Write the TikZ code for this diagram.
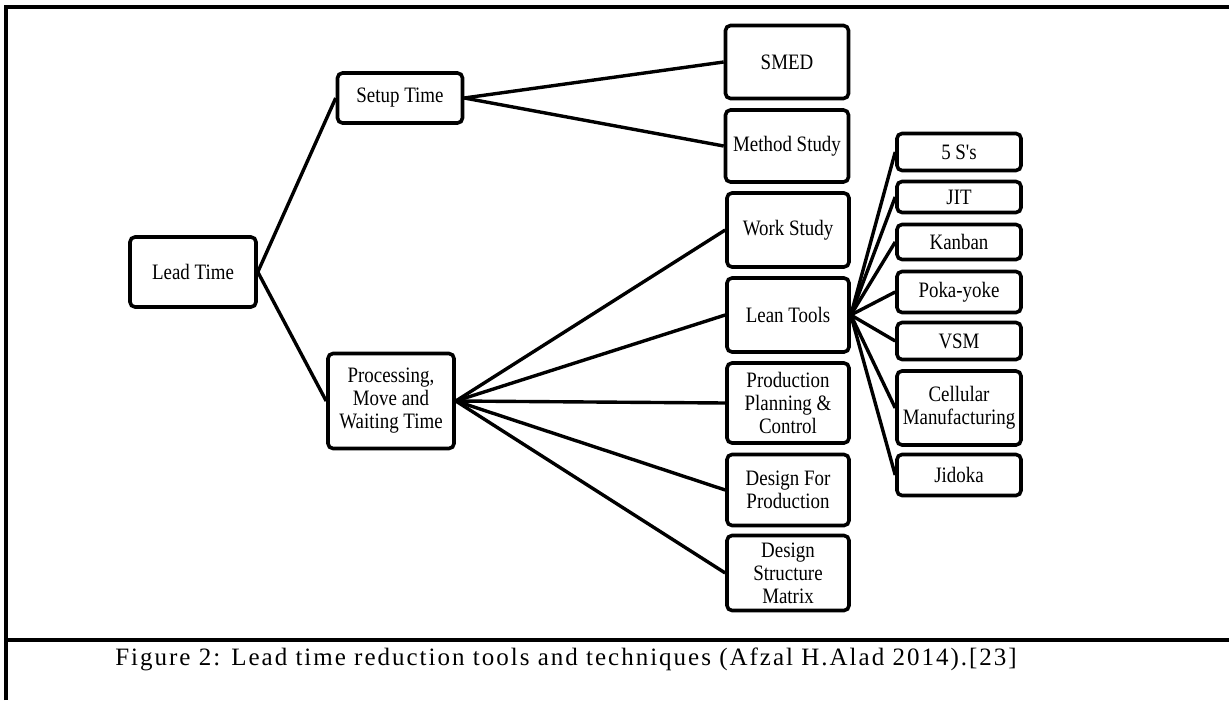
\documentclass[tikz,border=0pt]{standalone}
\usepackage{fontspec}
\setmainfont{Liberation Serif}
\newfontfamily\boxfont{Liberation Serif}[FakeStretch=0.86]
\newfontfamily\capfont{Liberation Serif}[LetterSpace=8]

\begin{document}
\begin{tikzpicture}[x=0.5pt, y=-0.5pt,
    box/.style={draw, line width=1.8pt, rounded corners=2.5pt, align=center,
      inner sep=1pt, font=\boxfont\fontsize{11}{11.5}\selectfont},
    link/.style={line width=1.7pt}]
  \useasboundingbox (0,0) rectangle (1229,700);

  % frame of the table
  \draw[line width=1.7pt] (6,700) -- (6,7) -- (1229,7);
  \draw[line width=1.7pt] (6,640) -- (1229,640);

  % left part
  \node[box, minimum width=63pt, minimum height=35pt] (lead) at (193,272) {Lead Time};
  \node[box, minimum width=62.5pt, minimum height=25pt] (setup) at (400,98) {Setup Time};
  \node[box, minimum width=63pt, minimum height=47.5pt] (proc) at (391,401) {Processing,\\Move and\\Waiting Time};

  % middle column
  \node[box, minimum width=61.5pt, minimum height=36.5pt] (smed) at (787,62) {SMED};
  \node[box, minimum width=61.5pt, minimum height=36pt] (method) at (787,146) {Method Study};
  \node[box, minimum width=61pt, minimum height=37pt] (work) at (788,230) {Work Study};
  \node[box, minimum width=61pt, minimum height=37pt] (lean) at (788,315) {Lean Tools};
  \node[box, minimum width=61pt, minimum height=40pt] (ppc) at (788,403) {Production\\Planning \&\\Control};
  \node[box, minimum width=61pt, minimum height=35.5pt] (dfp) at (788,490) {Design For\\Production};
  \node[box, minimum width=61pt, minimum height=37.5pt] (dsm) at (788,573) {Design\\Structure\\Matrix};

  % lean tools
  \node[box, minimum width=62pt, minimum height=18.5pt] (fives) at (959,152) {5 S's};
  \node[box, minimum width=62pt, minimum height=15.5pt] (jit) at (959,197) {JIT};
  \node[box, minimum width=62pt, minimum height=17.5pt] (kanban) at (959,242) {Kanban};
  \node[box, minimum width=62pt, minimum height=20.5pt] (poka) at (959,292) {Poka-yoke};
  \node[box, minimum width=62pt, minimum height=18.5pt] (vsm) at (959,341) {VSM};
  \node[box, minimum width=62pt, minimum height=37pt] (cell) at (959,408) {Cellular\\Manufacturing};
  \node[box, minimum width=62pt, minimum height=20.5pt] (jidoka) at (959,475) {Jidoka};

  % connectors
  \draw[link] (lead.east) -- (setup.west);
  \draw[link] (lead.east) -- (proc.west);
  \foreach \n in {smed, method}
    \draw[link] (setup.east) -- (\n.west);
  \foreach \n in {work, lean, ppc, dfp, dsm}
    \draw[link] (proc.east) -- (\n.west);
  \foreach \n in {fives, jit, kanban, poka, vsm, cell, jidoka}
    \draw[link] (lean.east) -- (\n.west);

  % caption
  \node[font=\capfont\fontsize{12.5}{14}\selectfont] (caption) at (566,659)
    {Figure 2: Lead time reduction tools and techniques (Afzal H.Alad 2014).[23]};
\end{tikzpicture}
\end{document}
